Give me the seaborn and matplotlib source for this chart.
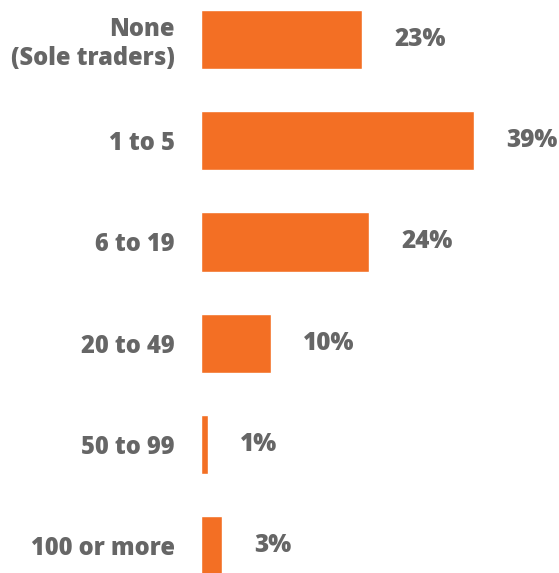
import matplotlib
matplotlib.use("Agg")
import matplotlib.pyplot as plt
import seaborn as sns
import pandas as pd

# Number of employees per business and share of respondents
categories = ["None\n(Sole traders)", "1 to 5", "6 to 19", "20 to 49", "50 to 99", "100 or more"]
shares = [23, 39, 24, 10, 1, 3]
value_labels = ["23%", "39%", "24%", "10%", "1%", "3%"]

BAR_COLOR = "#F36F24"
TEXT_COLOR = "#666666"

sns.set_theme(style="white")
plt.rcParams["font.family"] = ["Open Sans", "DejaVu Sans"]

df = pd.DataFrame({"size": categories, "share": shares})

W, H = 559, 573
fig = plt.figure(figsize=(W / 100, H / 100), dpi=100)
ax = fig.add_axes([201 / W, 0, 1 - 201 / W, 1])

sns.barplot(data=df, y="size", x="share", orient="h", color=BAR_COLOR,
            saturation=1, width=0.585, ax=ax)

ax.set_xlim(0, 358 / 7.0)
ax.set_ylim(5.27, -0.39)

ax.bar_label(ax.containers[0], labels=value_labels, padding=23,
             fontsize=17.5, fontweight="heavy", color=TEXT_COLOR)

ax.set_xlabel("")
ax.set_ylabel("")
ax.set_xticks([])
ax.tick_params(axis="y", length=0, pad=19)
for lbl in ax.get_yticklabels():
    lbl.set_fontsize(17)
    lbl.set_fontweight("heavy")
    lbl.set_color(TEXT_COLOR)
    lbl.set_multialignment("right")
    lbl.set_linespacing(1.2)
    lbl.set_verticalalignment("center_baseline")

sns.despine(ax=ax, left=True, bottom=True)

fig.savefig("out.png", dpi=100)
